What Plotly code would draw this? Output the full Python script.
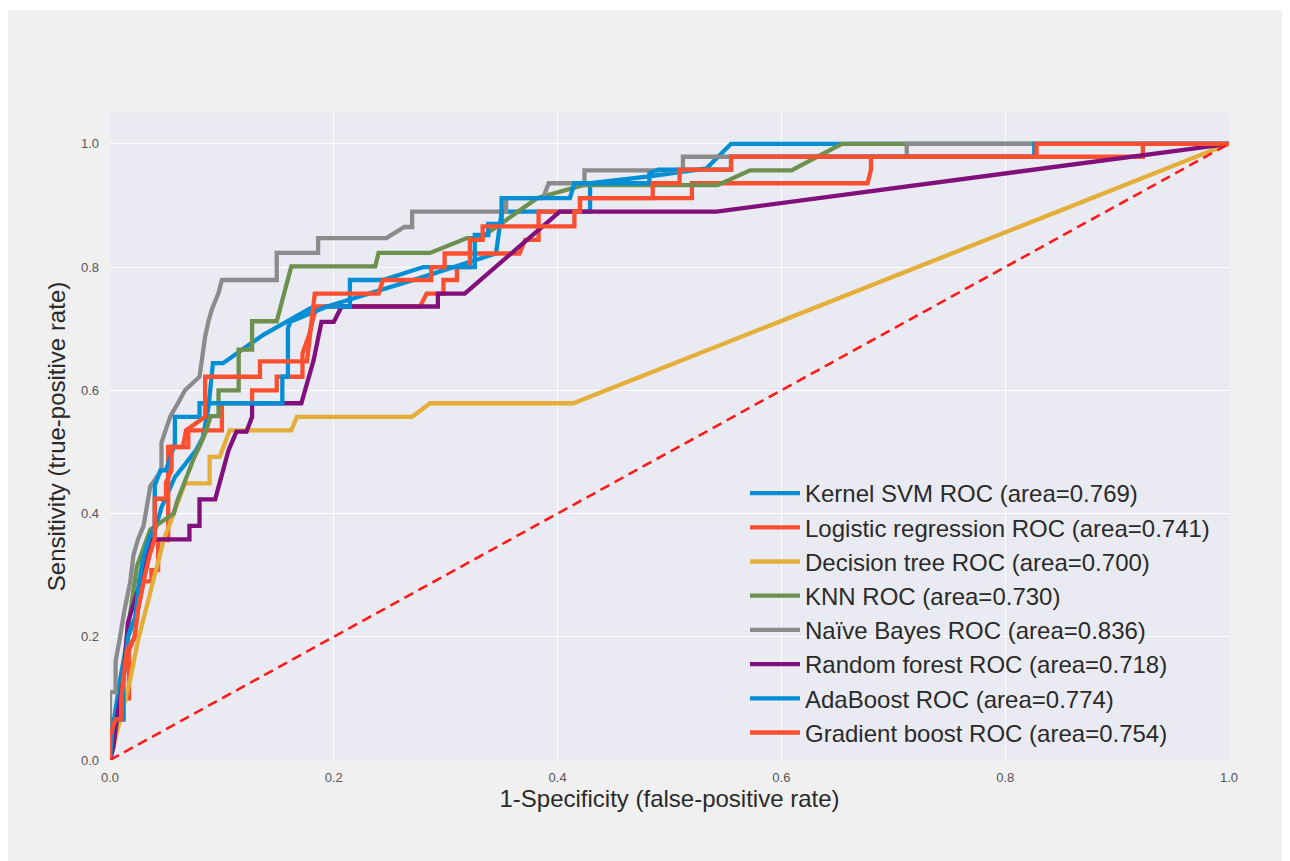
import plotly.graph_objects as go

# ---- data ----
svm_fpr = [0, 0.004, 0.01, 0.016, 0.024, 0.036, 0.046, 0.058, 0.077, 0.083, 0.088, 0.092, 0.101, 0.137, 0.179, 0.194, 0.28, 0.345, 0.35, 0.429, 0.429, 0.482, 0.533, 0.555, 1.0]
svm_tpr = [0, 0.07, 0.14, 0.2, 0.238, 0.346, 0.41, 0.459, 0.503, 0.524, 0.573, 0.644, 0.644, 0.69, 0.733, 0.736, 0.784, 0.822, 0.89, 0.89, 0.936, 0.947, 0.96, 1.0, 1.0]

lr_fpr = [0, 0, 0.012, 0.012, 0.017, 0.017, 0.022, 0.025, 0.03, 0.037, 0.037, 0.043, 0.043, 0.052, 0.052, 0.07, 0.07, 0.1, 0.1, 0.127, 0.127, 0.149, 0.149, 0.172, 0.172, 0.178, 0.182, 0.185, 0.277, 0.283, 0.298, 0.298, 0.31, 0.31, 0.3216, 0.3216, 0.366, 0.371, 0.383, 0.383, 0.42, 0.42, 0.52, 0.52, 0.677, 0.68, 0.68, 0.923, 0.923, 1.0]
lr_tpr = [0, 0.066, 0.066, 0.1, 0.1, 0.178, 0.2, 0.244, 0.29, 0.29, 0.308, 0.308, 0.357, 0.357, 0.508, 0.508, 0.535, 0.535, 0.579, 0.579, 0.6, 0.6, 0.622, 0.622, 0.66, 0.69, 0.72, 0.736, 0.736, 0.757, 0.757, 0.779, 0.779, 0.8, 0.8, 0.822, 0.822, 0.844, 0.844, 0.89, 0.89, 0.912, 0.912, 0.936, 0.936, 0.958, 0.979, 0.979, 1.0, 1.0]

dt_fpr = [0, 0.01, 0.018, 0.025, 0.048, 0.067, 0.089, 0.089, 0.098, 0.107, 0.162, 0.167, 0.27, 0.286, 0.414, 1.0]
dt_tpr = [0, 0.07, 0.13, 0.194, 0.357, 0.449, 0.449, 0.492, 0.492, 0.535, 0.535, 0.557, 0.557, 0.579, 0.579, 1.0]

knn_fpr = [0, 0.003, 0.005, 0.01, 0.015, 0.02, 0.024, 0.036, 0.057, 0.06, 0.065, 0.07, 0.075, 0.08, 0.085, 0.09, 0.097, 0.097, 0.115, 0.115, 0.127, 0.127, 0.149, 0.162, 0.237, 0.24, 0.286, 0.319, 0.331, 0.382, 0.423, 0.543, 0.572, 0.609, 0.654, 1.0]
knn_tpr = [0, 0.02, 0.05, 0.1, 0.2, 0.27, 0.314, 0.374, 0.4, 0.42, 0.444, 0.47, 0.49, 0.509, 0.53, 0.558, 0.558, 0.6, 0.6, 0.666, 0.666, 0.712, 0.712, 0.801, 0.801, 0.823, 0.823, 0.847, 0.847, 0.912, 0.933, 0.933, 0.957, 0.957, 1.0, 1.0]

nb_fpr = [0, 0, 0.005, 0.005, 0.009, 0.013, 0.018, 0.021, 0.025, 0.03, 0.036, 0.046, 0.046, 0.054, 0.061, 0.067, 0.08, 0.085, 0.088, 0.091, 0.097, 0.1, 0.149, 0.149, 0.186, 0.186, 0.247, 0.263, 0.27, 0.27, 0.354, 0.354, 0.387, 0.392, 0.424, 0.424, 0.512, 0.512, 0.712, 0.712, 1.0]
nb_tpr = [0, 0.11, 0.11, 0.16, 0.2, 0.244, 0.288, 0.333, 0.358, 0.38, 0.444, 0.47, 0.515, 0.558, 0.58, 0.6, 0.622, 0.687, 0.712, 0.731, 0.758, 0.779, 0.779, 0.823, 0.823, 0.847, 0.847, 0.865, 0.865, 0.89, 0.89, 0.912, 0.912, 0.936, 0.936, 0.957, 0.957, 0.979, 0.979, 1.0, 1.0]

rf_fpr = [0, 0.003, 0.006, 0.012, 0.016, 0.027, 0.036, 0.071, 0.071, 0.08, 0.08, 0.094, 0.106, 0.113, 0.122, 0.127, 0.127, 0.171, 0.182, 0.189, 0.2, 0.207, 0.277, 0.293, 0.293, 0.317, 0.402, 0.542, 1.0]
rf_tpr = [0, 0.022, 0.066, 0.131, 0.223, 0.288, 0.358, 0.358, 0.38, 0.38, 0.423, 0.423, 0.503, 0.533, 0.533, 0.557, 0.579, 0.579, 0.649, 0.711, 0.711, 0.736, 0.736, 0.736, 0.757, 0.757, 0.89, 0.89, 1.0]

ada_fpr = [0, 0.003, 0.012, 0.012, 0.016, 0.02, 0.022, 0.026, 0.03, 0.035, 0.04, 0.04, 0.045, 0.05, 0.058, 0.058, 0.08, 0.08, 0.154, 0.154, 0.159, 0.159, 0.161, 0.194, 0.2144, 0.2144, 0.244, 0.28, 0.326, 0.326, 0.338, 0.338, 0.35, 0.35, 0.411, 0.415, 0.482, 0.482, 0.49, 0.555, 0.555, 0.826, 0.826, 1.0]
ada_tpr = [0, 0.066, 0.066, 0.13, 0.2, 0.222, 0.222, 0.29, 0.33, 0.36, 0.38, 0.445, 0.47, 0.47, 0.514, 0.557, 0.557, 0.579, 0.579, 0.622, 0.622, 0.7, 0.711, 0.736, 0.736, 0.779, 0.779, 0.8, 0.8, 0.852, 0.852, 0.87, 0.87, 0.912, 0.912, 0.936, 0.936, 0.952, 0.958, 0.958, 0.979, 0.979, 1.0, 1.0]

gb_fpr = [0, 0, 0.005, 0.01, 0.01, 0.015, 0.022, 0.025, 0.03, 0.035, 0.04, 0.04, 0.05, 0.05, 0.055, 0.055, 0.065, 0.068, 0.085, 0.085, 0.134, 0.134, 0.176, 0.183, 0.24, 0.244, 0.287, 0.287, 0.299, 0.299, 0.3216, 0.3216, 0.333, 0.333, 0.415, 0.415, 0.42, 0.42, 0.485, 0.485, 0.509, 0.509, 0.555, 0.555, 0.828, 0.828, 1.0]
gb_tpr = [0, 0.04, 0.066, 0.066, 0.1, 0.177, 0.2, 0.244, 0.29, 0.33, 0.36, 0.424, 0.424, 0.45, 0.47, 0.508, 0.508, 0.535, 0.557, 0.622, 0.622, 0.647, 0.647, 0.757, 0.757, 0.779, 0.779, 0.8, 0.8, 0.822, 0.822, 0.844, 0.844, 0.866, 0.866, 0.89, 0.89, 0.912, 0.912, 0.936, 0.936, 0.958, 0.958, 0.979, 0.979, 1.0, 1.0]

chance_x = [0, 1]
chance_y = [0, 1]

series = [
    ("Kernel SVM ROC (area=0.769)", svm_fpr, svm_tpr, "#008fd5"),
    ("Logistic regression ROC (area=0.741)", lr_fpr, lr_tpr, "#fc4f30"),
    ("Decision tree ROC (area=0.700)", dt_fpr, dt_tpr, "#e5ae38"),
    ("KNN ROC (area=0.730)", knn_fpr, knn_tpr, "#6d904f"),
    ("Naïve Bayes ROC (area=0.836)", nb_fpr, nb_tpr, "#8b8b8b"),
    ("Random forest ROC (area=0.718)", rf_fpr, rf_tpr, "#810f7c"),
    ("AdaBoost ROC (area=0.774)", ada_fpr, ada_tpr, "#008fd5"),
    ("Gradient boost ROC (area=0.754)", gb_fpr, gb_tpr, "#fc4f30"),
]

FONT = "Liberation Sans, Arial, Helvetica, sans-serif"

fig = go.Figure()
for name, xs, ys, col in series:
    fig.add_trace(go.Scatter(x=xs, y=ys, mode="lines", name=name,
                             line=dict(color=col, width=4.3)))
fig.add_trace(go.Scatter(x=chance_x, y=chance_y, mode="lines", showlegend=False,
                         line=dict(color="#ff1a1a", width=2.6, dash="10px,6px")))

# The page body adds an 8px offset; layout below is expressed in screen pixels.
OFF = 8
W, H = 1290 - OFF, 861 - OFF
ML, MT = 110 - OFF, 113 - OFF
pw, ph = 1119, 647
MR, MB = W - ML - pw, H - MT - ph

def sx(px):  # screen x -> paper x
    return (px - OFF - ML) / pw

def sy(py):  # screen y -> paper y
    return (MT + ph - (py - OFF)) / ph

fig.add_shape(type="rect", xref="paper", yref="paper", layer="below",
              x0=sx(7), x1=sx(1283), y0=sy(861), y1=sy(10),
              fillcolor="#f0f0f0", line=dict(width=0))
fig.add_shape(type="rect", xref="paper", yref="paper", layer="below",
              x0=0, x1=1, y0=0, y1=1, fillcolor="#eaeaf2", line=dict(width=0))

axis_common = dict(showgrid=True, gridcolor="white", gridwidth=1.3, zeroline=False,
                   showline=False, ticks="", tickformat=".1f",
                   tickfont=dict(family=FONT, size=13, color="#555555"),
                   dtick=0.2, tick0=0)

fig.update_layout(
    width=W, height=H,
    margin=dict(l=ML, r=MR, t=MT, b=MB, pad=0),
    paper_bgcolor="white",
    plot_bgcolor="rgba(0,0,0,0)",
    font=dict(family=FONT),
    xaxis=dict(range=[0, 1.0], ticklabelstandoff=8,
               title=dict(text="1-Specificity (false-positive rate)",
                          font=dict(family=FONT, size=24, color="#2a2a2a"), standoff=6),
               **axis_common),
    yaxis=dict(range=[0, 1.05], ticklabelstandoff=10,
               title=dict(text="Sensitivity (true-positive rate)",
                          font=dict(family=FONT, size=24, color="#2a2a2a"), standoff=8),
               **axis_common),
    legend=dict(x=sx(745), y=sy(471), xanchor="left", yanchor="top",
                bgcolor="rgba(0,0,0,0)", borderwidth=0, itemwidth=50,
                font=dict(family=FONT, size=24, color="#2a2a2a")),
)

fig.write_html("out.html")
